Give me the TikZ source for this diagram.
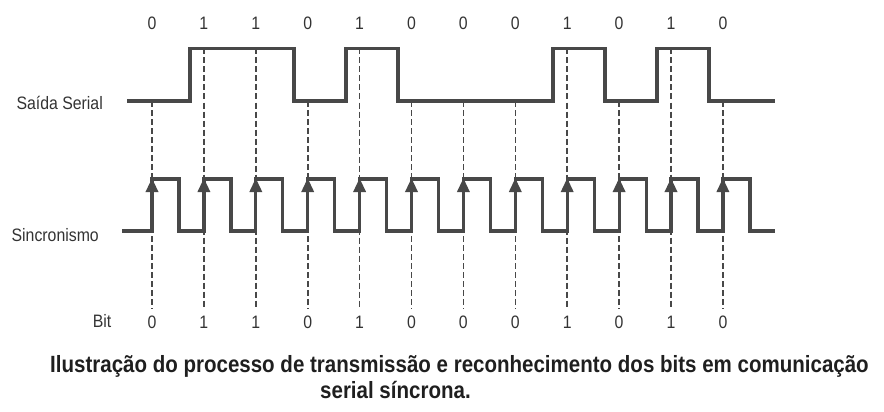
\documentclass[tikz,border=0pt]{standalone}
\usepackage{fontspec}
\setmainfont{Liberation Sans}
\newfontfamily\labfont[FakeStretch=0.88]{Liberation Sans}
\newfontfamily\capfont[FakeStretch=0.873]{Liberation Sans}
\usetikzlibrary{arrows.meta}
\definecolor{sig}{HTML}{484848}
\definecolor{txt}{HTML}{333333}

\begin{document}
\begin{tikzpicture}[x=1pt,y=-1pt]
    \tikzstyle{signal}=[line width=3.2pt,line join=miter,draw=sig]
    \tikzstyle{guide}=[line width=1.6pt,draw=sig,dash pattern=on 6pt off 3pt,shorten >=6pt]
    \tikzstyle{clk arrow}=[line width=3.2pt,draw=sig,fill=sig,-{Triangle[width=12pt,length=14pt]}]
    \tikzstyle{annot}=[text=txt,font=\labfont\fontsize{18}{21}\selectfont,inner sep=1pt,anchor=base]
    \tikzstyle{caption}=[text=black!88,font=\capfont\bfseries\fontsize{23.5}{27}\selectfont,inner sep=0pt,anchor=base west]
    \useasboundingbox (0,0) rectangle (884,412);

    % Signal names
    \node[annot,anchor=base east] (serial) at (104,110) {Saída Serial};
    \node[annot,anchor=base east] (sync) at (100,241) {Sincronismo};
    \node[annot] (bitname) at (102,327) {Bit};

    % Bit instants: labels and guide lines
    \foreach \b [count=\i from 0] in {0,1,1,0,1,0,0,0,1,0,1,0} {
        \pgfmathsetmacro{\x}{152+51.9*\i}
        \ifnum\b=1 \def\lvl{48.5}\else\def\lvl{101}\fi
        \coordinate (S-\i) at (\x,\lvl);
        \coordinate (C-\i) at (\x,231);
        \coordinate (A-\i) at (\x,178);
        \node[annot] (T-\i) at (\x,30) {\b};
        \node[annot] (B-\i) at (\x,328) {\b};
        \draw[guide] (S-\i) -- (B-\i.north);
    }

    % Serial output
    \draw[signal] (127,101) -- (190,101) -- (190,48.5) -- (294,48.5) -- (294,101)
        -- (346,101) -- (346,48.5) -- (398,48.5) -- (398,101) -- (553,101)
        -- (553,48.5) -- (605,48.5) -- (605,101) -- (657,101) -- (657,48.5)
        -- (709,48.5) -- (709,101) -- (775,101);

    % Clock
    \draw[signal] (122,231) \foreach \i in {0,...,11}{
        -- ({152+51.9*\i},231) -- ++(0,-52) -- ++(27,0) -- ++(0,52)} -- (775,231);
    \foreach \i in {0,...,11}
        \draw[clk arrow] (C-\i) -- (A-\i);

    % Caption
    \node[caption] (cap-1) at (50,372) {Ilustração do processo de transmissão e reconhecimento dos bits em comunicação};
    \node[caption] (cap-2) at (320,398) {serial síncrona.};
\end{tikzpicture}
\end{document}
